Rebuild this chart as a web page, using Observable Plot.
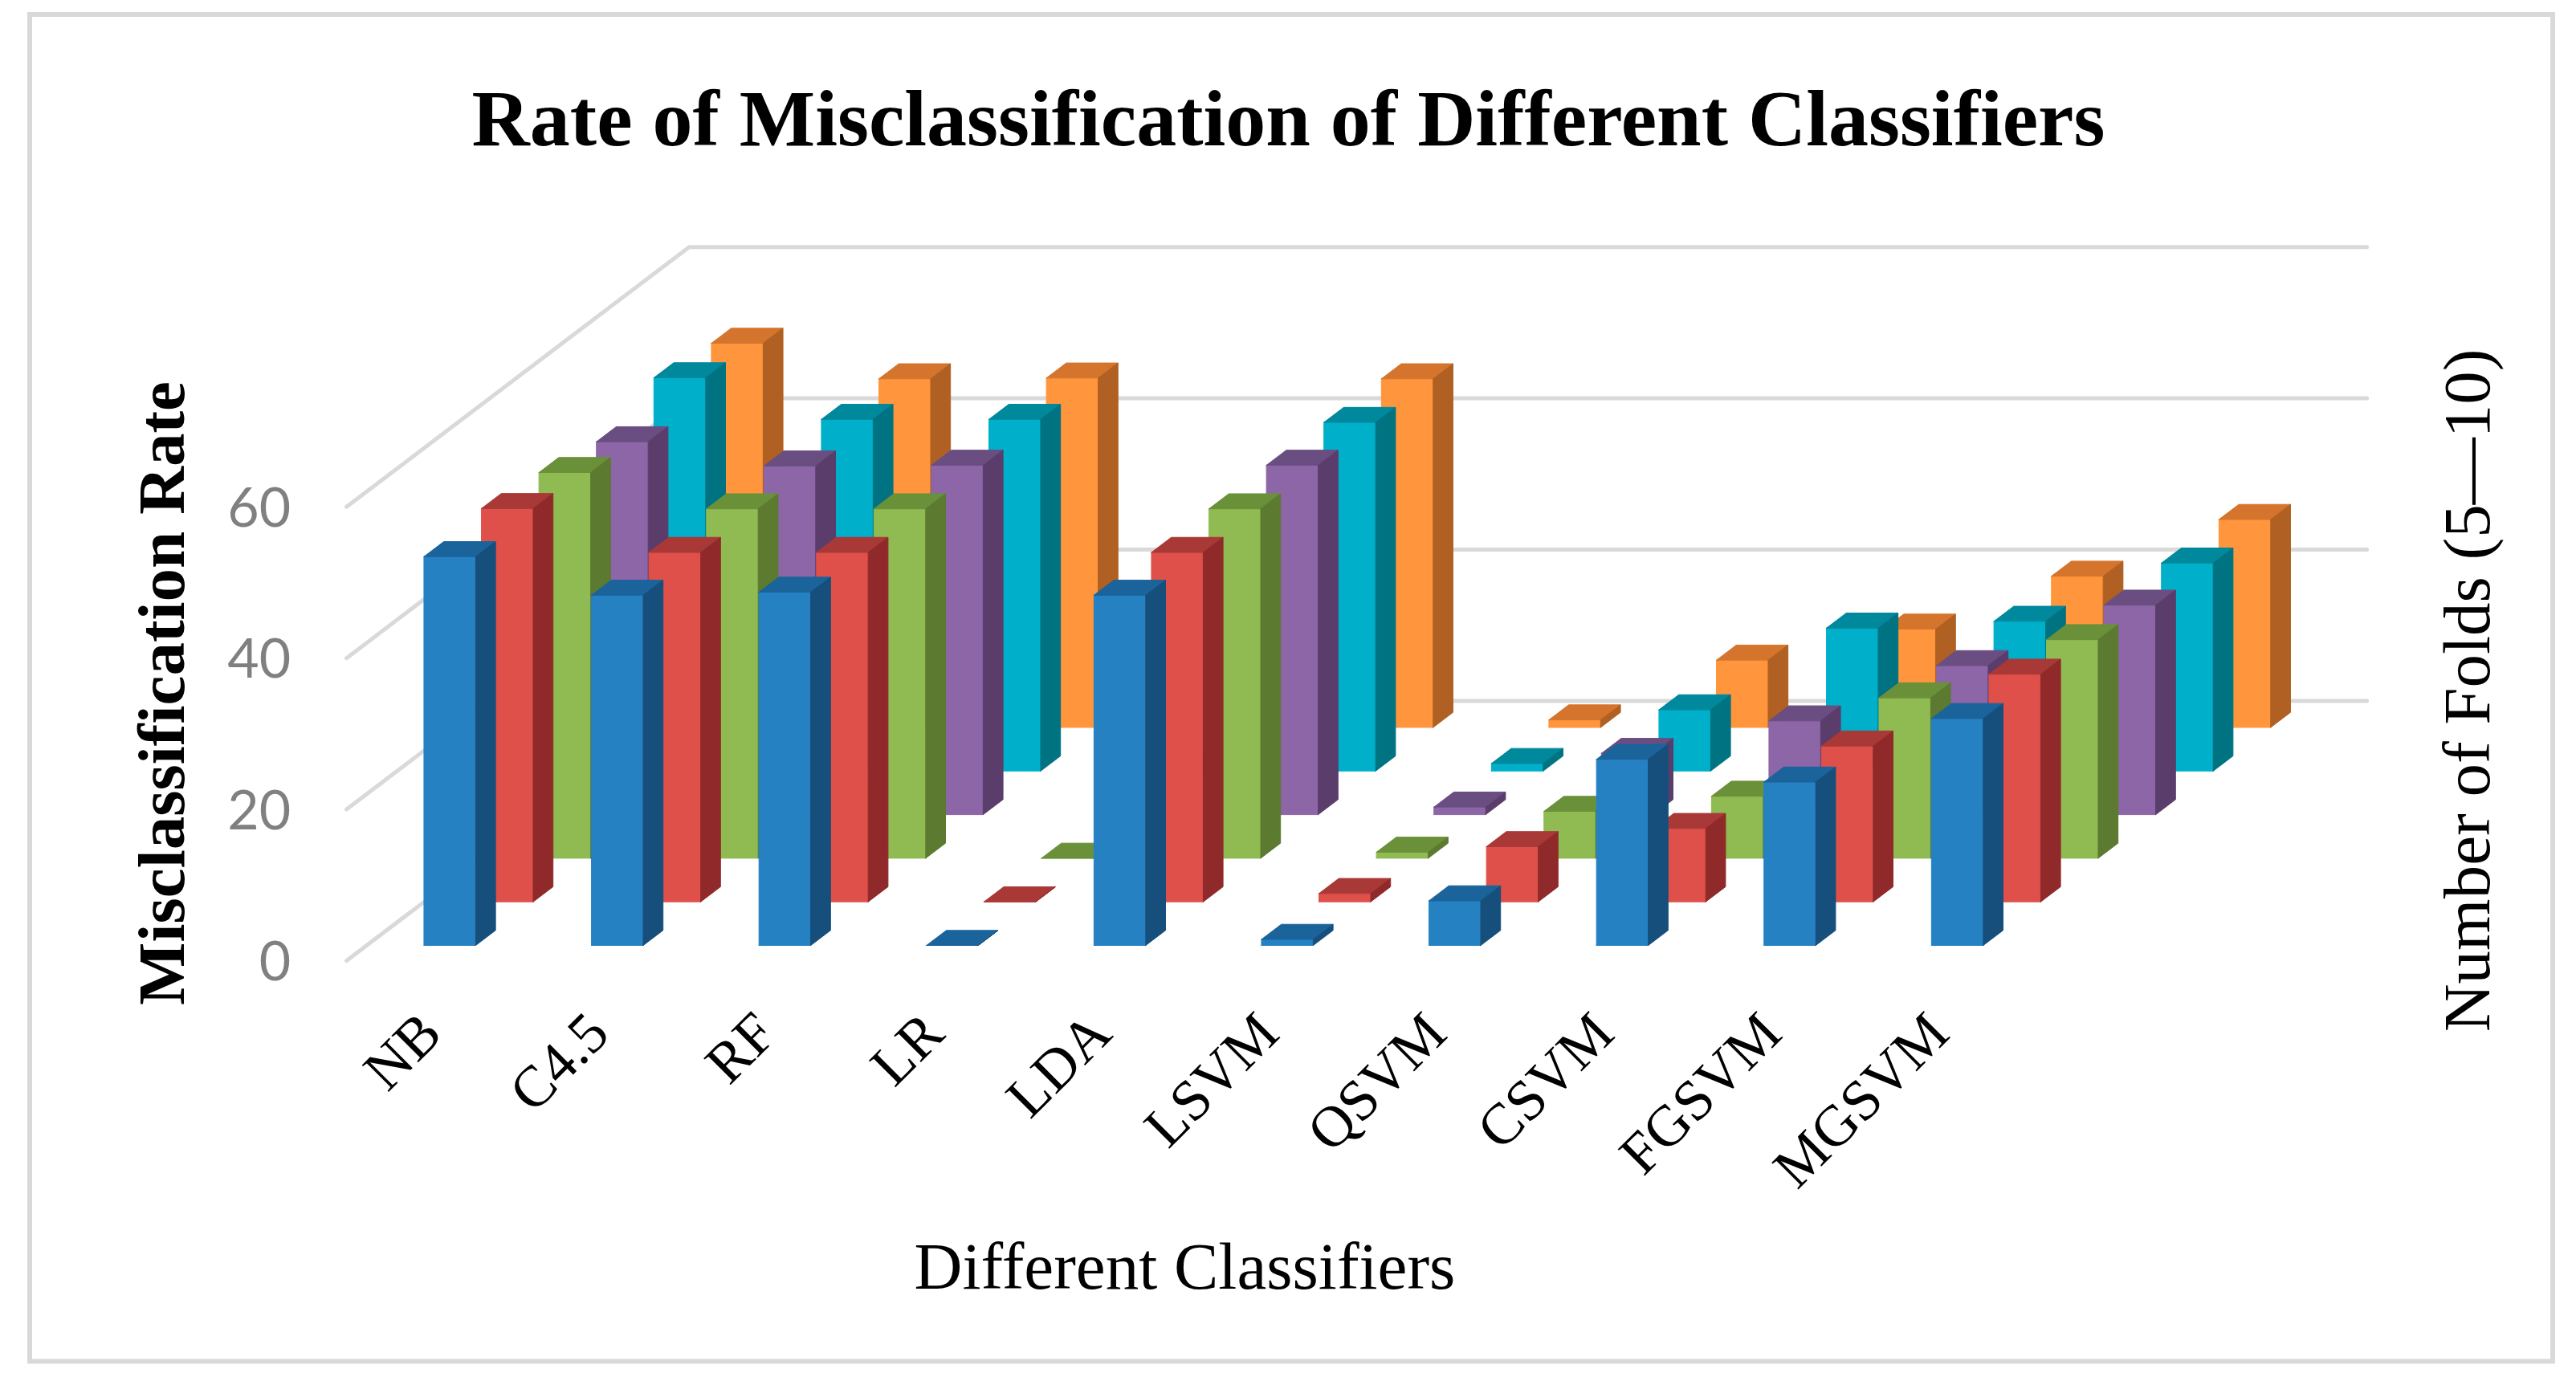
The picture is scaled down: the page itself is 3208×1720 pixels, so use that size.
<!DOCTYPE html>
<html>
<head>
<meta charset="utf-8">
<script src="https://cdn.jsdelivr.net/npm/d3@7"></script>
<script src="https://cdn.jsdelivr.net/npm/@observablehq/plot@0.6"></script>
<style>
  html, body { margin: 0; padding: 0; background: #ffffff; overflow: hidden; }
</style>
</head>
<body>
<div id="chart"></div>
<script>
// ---------------- data ----------------
const categories = ["NB", "C4.5", "RF", "LR", "LDA", "LSVM", "QSVM", "CSVM", "FGSVM", "MGSVM"];
const foldLabels = ["5", "6", "7", "8", "9", "10"];   // number of folds (front row to back row)
const fold5  = [51.4, 46.3, 46.7, 0, 46.3, 0.8, 5.9, 24.6, 21.6, 30.0];
const fold6  = [52.0, 46.2, 46.2, 0, 46.2, 1.1, 7.3,  9.7, 20.6, 30.1];
const fold7  = [51.0, 46.2, 46.2, 0, 46.2, 0.8, 6.2,  8.2, 21.2, 28.9];
const fold8  = [49.3, 46.1, 46.2, 0, 46.2, 1.0, 8.1, 12.4, 19.7, 27.7];
const fold9  = [52.0, 46.5, 46.5, 0, 46.1, 1.0, 8.1, 18.9, 19.8, 27.5];
const fold10 = [50.8, 46.1, 46.2, 0, 46.1, 1.0, 8.9, 13.0, 20.0, 27.5];
const yTicks = [0, 20, 40, 60];
const titleText = "Rate of Misclassification of Different Classifiers";
const xTitle = "Different Classifiers";
const yTitle = "Misclassification Rate";
const zTitle = "Number of Folds (5\u201410)";

// ---------------- styles ----------------
const palette = [
  {front: "#2681C3", top: "#1B639B", side: "#164F7C"},  // 5
  {front: "#E0504A", top: "#A93937", side: "#902A2A"},  // 6
  {front: "#8FBB52", top: "#6A9139", side: "#5C7A30"},  // 7
  {front: "#8C66A6", top: "#6A4E82", side: "#5A3D6B"},  // 8
  {front: "#00AFCA", top: "#00889C", side: "#007382"},  // 9
  {front: "#FF953C", top: "#D5752D", side: "#B06022"}   // 10
];
const gridColor = "#d9d9d9";

// ---------------- oblique 3D projection (data space) ----------------
const series = [fold5, fold6, fold7, fold8, fold9, fold10];
const KX = 0.3432;    // category units per depth slot
const KY = 5.764;     // value units per depth slot
const BAR_W = 0.309;  // bar width (category units)
const BAR_D = 0.345;  // bar depth (slots)
const ROW_OFF = 0.35; // bar front inside its slot
const BACK = 5.96;    // back wall depth
const WALL_L = -0.342, WALL_R = 9.674;
const proj = (x, z, v) => ({x: x + z * KX, y: v + z * KY});

const faces = [];
for (let r = series.length - 1; r >= 0; --r) {
  const c = palette[r];
  series[r].forEach((v, i) => {
    const z0 = r + ROW_OFF, z1 = z0 + BAR_D, xr = i + BAR_W;
    const add = (name, color, pts) =>
      pts.forEach((p) => faces.push({id: `${r}-${i}-${name}`, color, ...proj(...p)}));
    add("front", c.front, [[i, z0, 0], [xr, z0, 0], [xr, z0, v], [i, z0, v], [i, z0, 0]]);
    add("top", c.top, [[i, z0, v], [xr, z0, v], [xr, z1, v], [i, z1, v], [i, z0, v]]);
    add("side", c.side, [[xr, z0, 0], [xr, z1, 0], [xr, z1, v], [xr, z0, v], [xr, z0, 0]]);
  });
}

const grid = yTicks.flatMap((v) =>
  [[WALL_L, 0, v], [WALL_L, BACK, v], [WALL_R, BACK, v]].map((p) => ({v, ...proj(...p)}))
);

const serif = "'Liberation Serif', 'Times New Roman', serif";

const chart = Plot.plot({
  width: 3208,
  height: 1720,
  margin: 0,
  style: {background: "#ffffff", overflow: "visible"},
  x: {type: "linear", domain: [0, 1], range: [502.4, 711.0], axis: null},
  y: {type: "linear", domain: [0, 60], range: [1196, 630.8], axis: null},
  color: {type: "identity"},
  marks: [
    Plot.frame({stroke: gridColor, strokeWidth: 6, insetLeft: 36.5, insetTop: 17.5, insetRight: 29.5, insetBottom: 25}),
    Plot.line(grid, {x: "x", y: "y", z: "v", stroke: gridColor, strokeWidth: 5}),
    Plot.line(faces, {x: "x", y: "y", z: "id", fill: "color", stroke: "color", strokeWidth: 1, strokeLinejoin: "round"}),
    Plot.text(yTicks, {
      x: () => -0.6745, y: (d) => d, text: (d) => String(d), dy: 3,
      textAnchor: "end", lineAnchor: "middle",
      fontFamily: "Lato, 'Open Sans', sans-serif", fontSize: 68, fill: "#808080"
    }),
    Plot.text(categories, {
      x: (d, i) => i + 0.2407, y: () => -10, text: (d) => d,
      rotate: -45, textAnchor: "end", lineAnchor: "bottom",
      fontFamily: serif, fontSize: 72, fill: "#000"
    }),
    Plot.text([titleText], {
      text: (d) => d, frameAnchor: "top", dy: 180, textAnchor: "middle", lineAnchor: "bottom",
      fontFamily: serif, fontWeight: "bold", fontSize: 100, fill: "#000"
    }),
    Plot.text([xTitle], {
      text: (d) => d, frameAnchor: "top", dx: -129, dy: 1604, textAnchor: "middle", lineAnchor: "bottom",
      fontFamily: serif, fontSize: 83, fill: "#000"
    }),
    Plot.text([yTitle], {
      text: (d) => d, frameAnchor: "left", dx: 228, dy: 3, rotate: -90,
      textAnchor: "middle", lineAnchor: "bottom",
      fontFamily: serif, fontWeight: "bold", fontSize: 83, fill: "#000"
    }),
    Plot.text([zTitle], {
      text: (d) => d, frameAnchor: "right", dx: -109, dy: -0.5, rotate: -90,
      textAnchor: "middle", lineAnchor: "bottom",
      fontFamily: serif, fontSize: 83, fill: "#000"
    })
  ]
});
document.getElementById("chart").appendChild(chart);
</script>
</body>
</html>
